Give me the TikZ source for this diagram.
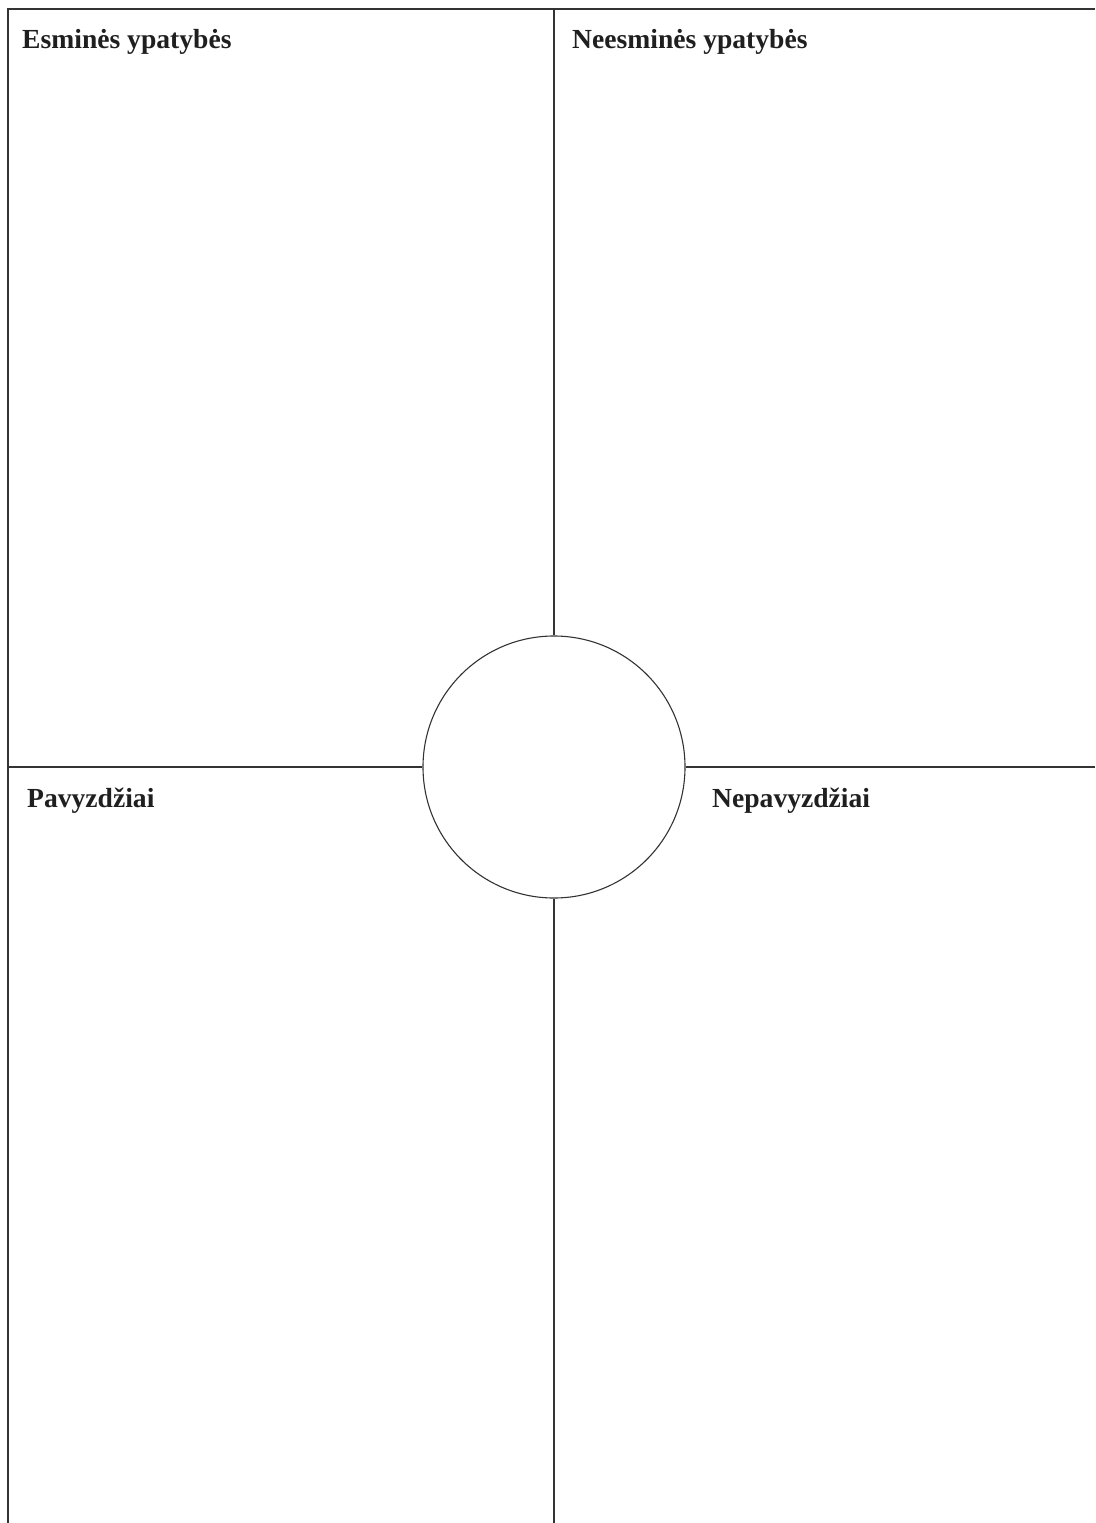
\documentclass[tikz,border=0pt]{standalone}
\usepackage{fontspec}
\setmainfont{Liberation Serif}
\begin{document}
\begin{tikzpicture}[x=1pt,y=-1pt,
  rule/.style={draw=black!80,line width=1.1pt},
  label/.style={anchor=base west,inner sep=0pt,font=\fontsize{27.6}{32}\selectfont\bfseries,text=black!88}]
\useasboundingbox (0,0) rectangle (1095,1523);
\coordinate (tl) at (8,9);
\coordinate (tr) at (1095,9);
\coordinate (bl) at (8,1523);
\coordinate (mt) at (554,9);
\coordinate (mb) at (554,1523);
\coordinate (ml) at (8,767);
\coordinate (mr) at (1095,767);
\node[circle,rule,minimum size=262pt,inner sep=0pt] (c) at (554,767) {};
\draw[rule] (bl) -- (tl) -- (tr);
\draw[rule] (mt) -- (c.north);
\draw[rule] (c.south) -- (mb);
\draw[rule] (ml) -- (c.west);
\draw[rule] (c.east) -- (mr);
\node[label] (a) at (22,48) {Esminės ypatybės};
\node[label] (b) at (572,48) {Neesminės ypatybės};
\node[label] (p) at (27,807) {Pavyzdžiai};
\node[label] (n) at (712,807) {Nepavyzdžiai};
\end{tikzpicture}
\end{document}
